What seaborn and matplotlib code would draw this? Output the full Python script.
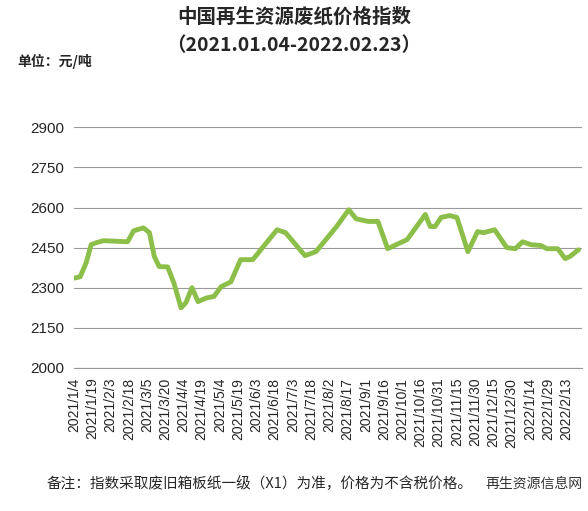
import matplotlib
matplotlib.use('Agg')
import matplotlib.pyplot as plt
import seaborn as sns
import pandas as pd

dates = ['2021-01-04', '2021-01-09', '2021-01-14', '2021-01-18', '2021-01-22', '2021-01-28',
         '2021-02-17', '2021-02-22', '2021-03-02', '2021-03-07', '2021-03-11', '2021-03-15',
         '2021-03-22', '2021-03-27', '2021-04-02', '2021-04-06', '2021-04-11', '2021-04-16',
         '2021-04-23', '2021-04-29', '2021-05-05', '2021-05-13', '2021-05-21', '2021-05-31',
         '2021-06-20', '2021-06-27', '2021-07-13', '2021-07-22', '2021-08-08', '2021-08-18',
         '2021-08-24', '2021-09-03', '2021-09-11', '2021-09-19', '2021-09-26', '2021-10-05',
         '2021-10-20', '2021-10-24', '2021-10-28', '2021-11-02', '2021-11-09', '2021-11-15',
         '2021-11-24', '2021-12-02', '2021-12-07', '2021-12-16', '2021-12-26', '2022-01-02',
         '2022-01-08', '2022-01-15', '2022-01-23', '2022-01-28', '2022-02-06', '2022-02-12',
         '2022-02-16', '2022-02-23']
values = [2336, 2341, 2394, 2461, 2468, 2476,
          2472, 2513, 2524, 2506, 2417, 2379,
          2378, 2319, 2225, 2244, 2300, 2248,
          2262, 2267, 2304, 2322, 2405, 2405,
          2517, 2506, 2420, 2435, 2529, 2592,
          2558, 2548, 2548, 2446, 2461, 2480,
          2574, 2529, 2529, 2563, 2570, 2563,
          2435, 2510, 2506, 2517, 2450, 2446,
          2472, 2461, 2458, 2446, 2446, 2409,
          2417, 2442]
yticks = [2000, 2150, 2300, 2450, 2600, 2750, 2900]

df = pd.DataFrame({'date': pd.to_datetime(dates), 'value': values})

sns.set_style('white')
plt.rcParams['font.family'] = ['Liberation Sans', 'Noto Sans CJK SC']

fig = plt.figure(figsize=(5.88, 5.11), dpi=100)
ax = fig.add_axes([0.126, 0.28, 0.864, 0.544])
sns.lineplot(data=df, x='date', y='value', ax=ax, color='#8cbf4a', linewidth=3.5)

ax.set_ylim(2000, 3040)
ax.set_yticks(yticks)
ax.yaxis.grid(True, color='#999999', linewidth=0.8)
ticks = pd.date_range('2021-01-04', '2022-02-23', freq='15D')
ax.set_xticks(ticks)
ax.set_xticklabels([f'{d.year}/{d.month}/{d.day}' for d in ticks], rotation=90, fontsize=10)
ax.set_xlim(pd.Timestamp('2021-01-04'), pd.Timestamp('2022-02-26'))
ax.tick_params(axis='y', labelsize=11)
for s in ['top', 'right', 'left']:
    ax.spines[s].set_visible(False)
ax.spines['bottom'].set_color('#999999')
ax.set_xlabel('')
ax.set_ylabel('')

cjk = ['Noto Sans CJK SC', 'DejaVu Sans']
fig.text(0.5, 0.955, '中国再生资源废纸价格指数', ha='center', fontsize=14, fontweight='bold', family=cjk)
fig.text(0.5, 0.9, '（2021.01.04-2022.02.23）', ha='center', fontsize=14, fontweight='bold', family=cjk)
fig.text(0.03, 0.87, '单位：元/吨', fontsize=10, fontweight='bold', family=cjk)
fig.text(0.08, 0.045, '备注：指数采取废旧箱板纸一级（X1）为准，价格为不含税价格。', fontsize=10.5, family=cjk)
fig.text(0.99, 0.045, '再生资源信息网', ha='right', fontsize=10, color='#333333', family=cjk)

fig.savefig('out.png', dpi=100)
